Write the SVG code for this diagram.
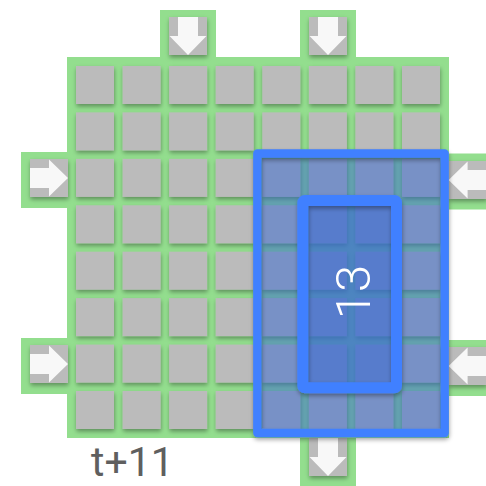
<svg xmlns="http://www.w3.org/2000/svg" xmlns:xlink="http://www.w3.org/1999/xlink" width="486" height="486" viewBox="0 0 486 486">
<style>
.g{fill:#93de8e}
.c{fill:#bbbbbb}
.a{fill:#f8f8f8}
.bf{fill:rgb(53,103,209);fill-opacity:0.5}
.bs{fill:none;stroke:#4080ff;stroke-linejoin:round}
</style>
<defs>
<filter id="sh" x="-20%" y="-20%" width="140%" height="150%">
<feDropShadow dx="0.5" dy="2.5" stdDeviation="2" flood-color="#000" flood-opacity="0.35"/>
</filter>
<path id="arr" d="M0,9 H19 V0.5 L38,19 L19,37.5 V29 H0 Z"/>
</defs>
<rect width="486" height="486" fill="#fff"/>
<g id="board">
<rect class="g" x="67" y="57" width="382" height="381"/>
</g>
<g id="tab-top-1"><rect class="g" x="160" y="10" width="56" height="48"/></g>
<g id="tab-top-2"><rect class="g" x="300" y="10" width="56" height="48"/></g>
<g id="tab-left-1"><rect class="g" x="21" y="152" width="47" height="56"/></g>
<g id="tab-left-2"><rect class="g" x="21" y="338" width="47" height="56"/></g>
<g id="tab-right-1"><rect class="g" x="448" y="153.5" width="40" height="56"/></g>
<g id="tab-right-2"><rect class="g" x="448" y="340" width="40" height="56"/></g>
<g id="tab-bottom"><rect class="g" x="300" y="437" width="56" height="50"/></g>
<g id="cells" filter="url(#sh)">
<g class="c">
<rect x="76" y="66" width="38" height="38"/><rect x="122.6" y="66" width="38" height="38"/><rect x="169.1" y="66" width="38" height="38"/><rect x="215.7" y="66" width="38" height="38"/><rect x="262.3" y="66" width="38" height="38"/><rect x="308.9" y="66" width="38" height="38"/><rect x="355.4" y="66" width="38" height="38"/><rect x="402" y="66" width="38" height="38"/>
<rect x="76" y="112.4" width="38" height="38"/><rect x="122.6" y="112.4" width="38" height="38"/><rect x="169.1" y="112.4" width="38" height="38"/><rect x="215.7" y="112.4" width="38" height="38"/><rect x="262.3" y="112.4" width="38" height="38"/><rect x="308.9" y="112.4" width="38" height="38"/><rect x="355.4" y="112.4" width="38" height="38"/><rect x="402" y="112.4" width="38" height="38"/>
<rect x="76" y="158.9" width="38" height="38"/><rect x="122.6" y="158.9" width="38" height="38"/><rect x="169.1" y="158.9" width="38" height="38"/><rect x="215.7" y="158.9" width="38" height="38"/><rect x="262.3" y="158.9" width="38" height="38"/><rect x="308.9" y="158.9" width="38" height="38"/><rect x="355.4" y="158.9" width="38" height="38"/><rect x="402" y="158.9" width="38" height="38"/>
<rect x="76" y="205.3" width="38" height="38"/><rect x="122.6" y="205.3" width="38" height="38"/><rect x="169.1" y="205.3" width="38" height="38"/><rect x="215.7" y="205.3" width="38" height="38"/><rect x="262.3" y="205.3" width="38" height="38"/><rect x="308.9" y="205.3" width="38" height="38"/><rect x="355.4" y="205.3" width="38" height="38"/><rect x="402" y="205.3" width="38" height="38"/>
<rect x="76" y="251.7" width="38" height="38"/><rect x="122.6" y="251.7" width="38" height="38"/><rect x="169.1" y="251.7" width="38" height="38"/><rect x="215.7" y="251.7" width="38" height="38"/><rect x="262.3" y="251.7" width="38" height="38"/><rect x="308.9" y="251.7" width="38" height="38"/><rect x="355.4" y="251.7" width="38" height="38"/><rect x="402" y="251.7" width="38" height="38"/>
<rect x="76" y="298.1" width="38" height="38"/><rect x="122.6" y="298.1" width="38" height="38"/><rect x="169.1" y="298.1" width="38" height="38"/><rect x="215.7" y="298.1" width="38" height="38"/><rect x="262.3" y="298.1" width="38" height="38"/><rect x="308.9" y="298.1" width="38" height="38"/><rect x="355.4" y="298.1" width="38" height="38"/><rect x="402" y="298.1" width="38" height="38"/>
<rect x="76" y="344.6" width="38" height="38"/><rect x="122.6" y="344.6" width="38" height="38"/><rect x="169.1" y="344.6" width="38" height="38"/><rect x="215.7" y="344.6" width="38" height="38"/><rect x="262.3" y="344.6" width="38" height="38"/><rect x="308.9" y="344.6" width="38" height="38"/><rect x="355.4" y="344.6" width="38" height="38"/><rect x="402" y="344.6" width="38" height="38"/>
<rect x="76" y="391" width="38" height="38"/><rect x="122.6" y="391" width="38" height="38"/><rect x="169.1" y="391" width="38" height="38"/><rect x="215.7" y="391" width="38" height="38"/><rect x="262.3" y="391" width="38" height="38"/><rect x="308.9" y="391" width="38" height="38"/><rect x="355.4" y="391" width="38" height="38"/><rect x="402" y="391" width="38" height="38"/>
<rect x="169" y="17" width="38" height="38"/>
<rect x="309" y="17" width="38" height="38"/>
<rect x="30" y="159" width="38" height="38"/>
<rect x="30" y="345" width="38" height="38"/>
<rect x="448.6" y="161" width="38" height="38"/>
<rect x="448.6" y="347" width="38" height="38"/>
<rect x="309" y="438" width="38" height="38"/>
</g>
</g>
<g id="arrows" class="a">
<use xlink:href="#arr" transform="translate(169,17) rotate(90 19 19)"/>
<use xlink:href="#arr" transform="translate(309,17) rotate(90 19 19)"/>
<use xlink:href="#arr" transform="translate(30,159)"/>
<use xlink:href="#arr" transform="translate(30,345)"/>
<use xlink:href="#arr" transform="translate(448.6,161) rotate(180 19 19)"/>
<use xlink:href="#arr" transform="translate(448.6,347) rotate(180 19 19)"/>
<use xlink:href="#arr" transform="translate(309,438) rotate(90 19 19)"/>
</g>
<g id="connectors"></g>
<g id="window">
<rect class="bf" x="257.3" y="153.5" width="187.4" height="279.5"/>
<rect class="bs" x="257.3" y="153.5" width="187.4" height="279.5" stroke-width="8.3" filter="url(#sh)"/>
</g>
<g id="kernel">
<rect class="bf" x="302.8" y="200.5" width="93.7" height="187.3" rx="2"/>
<rect class="bs" x="302.8" y="200.5" width="93.7" height="187.3" rx="2" stroke-width="11" filter="url(#sh)"/>
<text transform="translate(370,292) rotate(-90)" text-anchor="middle" font-family="Roboto, 'Liberation Sans', sans-serif" font-weight="300" font-size="49" fill="#ffffff">13</text>
</g>
<g id="label">
<text x="91" y="476" font-family="Roboto, 'Liberation Sans', sans-serif" font-size="41" fill="#5f5f5f">t+11</text>
</g>
</svg>
